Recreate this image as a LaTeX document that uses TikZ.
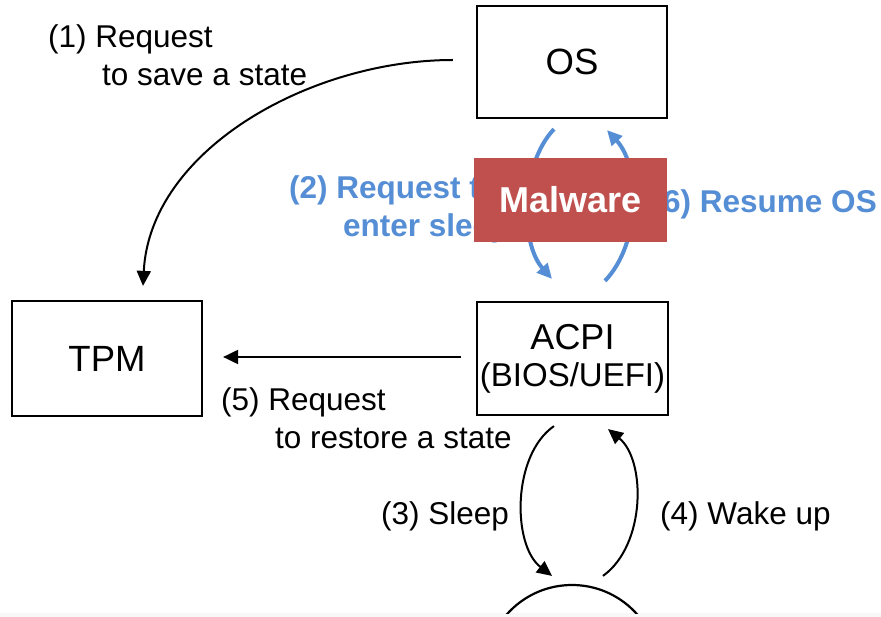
\documentclass[tikz,border=0pt]{standalone}
\usepackage{fontspec}
\setmainfont{Liberation Sans}
\usetikzlibrary{arrows.meta}
\definecolor{myblue}{HTML}{558ED5}
\definecolor{myred}{HTML}{C0504D}
\definecolor{stripgray}{HTML}{F8F8F8}
\begin{document}
\begin{tikzpicture}[x=1pt,y=-1pt,
  box/.style={draw=black, line width=2.2pt, inner sep=0pt, font=\fontsize{36.5}{44}\selectfont},
  lbl/.style={anchor=base west, inner sep=0pt, font=\fontsize{31.5}{38}\selectfont},
  blbl/.style={anchor=base west, inner sep=0pt, text=myblue, font=\fontsize{31.5}{38}\selectfont\bfseries},
  blk/.style={line width=2pt, -{Triangle[length=15pt,width=14pt]}},
  blu/.style={draw=myblue, line width=4pt, -{Triangle[length=15pt,width=14pt]}},
]
\useasboundingbox (0,0) rectangle (881,617);
\fill[white] (0,0) rectangle (881,617);
\fill[stripgray] (0,613) rectangle (881,617);

% boxes
\node[box, minimum width=190pt, minimum height=112pt] (os) at (572,62) {OS};
\node[box, minimum width=190pt, minimum height=115pt] (tpm) at (107,358.5) {TPM};
\node[box, minimum width=191pt, minimum height=113pt, align=center, font=\fontsize{33}{37}\selectfont] (acpi) at (572.5,358.5) {{\fontsize{36}{37}\selectfont ACPI}\\(BIOS/UEFI)};
\begin{scope}
  \clip (0,0) rectangle (881,613);
  \node[draw=black, circle, line width=2.2pt, minimum size=174pt, inner sep=0pt] (s3) at (572,672) {};
\end{scope}

% black connectors
\draw[blk] ([xshift=-23pt,yshift=2pt]os.west) .. controls (310,60) and (150,150) .. ([xshift=36pt,yshift=14pt]tpm.north);
\draw[blk] ([xshift=-15pt,yshift=1.5pt]acpi.west) -- ([xshift=20pt,yshift=1.5pt]tpm.east);
\draw[blk] ([xshift=-18.5pt,yshift=-10pt]acpi.south) .. controls (512,455) and (512,545) .. ([xshift=-20pt,yshift=8pt]s3.north);
\draw[blk] ([xshift=31pt,yshift=8pt]s3.north) .. controls (646,545) and (646,460) .. ([xshift=35.5pt,yshift=-13pt]acpi.south);

% blue connectors
\draw[blu] ([xshift=-18pt,yshift=-10pt]os.south) .. controls (520,165) and (520,243) .. ([xshift=-20.5pt,yshift=22pt]acpi.north);
\draw[blu] ([xshift=32.5pt,yshift=20pt]acpi.north) .. controls (641,243) and (641,167) .. ([xshift=35pt,yshift=-11pt]os.south);

% labels
\node[lbl] (l1a) at (48,48) {(1) Request};
\node[lbl] (l1b) at (102,86) {to save a state};
\node[blbl] (l2a) at (289,199) {(2) Request to};
\node[blbl] (l2b) at (343,237) {enter sleep};
\node[blbl, anchor=base east] (l6) at (877,213) {(6) Resume OS};
\node[lbl] (l5a) at (221,410) {(5) Request};
\node[lbl] (l5b) at (275,448) {to restore a state};
\node[lbl] (l3) at (381,524) {(3) Sleep};
\node[lbl] (l4) at (660,524) {(4) Wake up};

% malware box
\node[fill=myred, minimum width=193pt, minimum height=84pt, inner sep=0pt, text=white, font=\fontsize{36}{40}\selectfont\bfseries] (mal) at (570.5,200) {Malware};
\end{tikzpicture}
\end{document}
